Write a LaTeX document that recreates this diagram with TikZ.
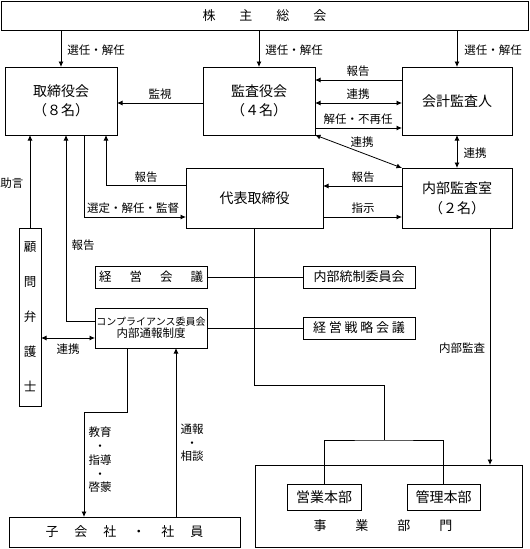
\documentclass[tikz,border=0pt]{standalone}
\usepackage{fontspec}
\setmainfont{Noto Sans CJK JP}
\usetikzlibrary{arrows.meta}
\begin{document}
\begin{tikzpicture}[x=1pt,y=-1pt,
  box/.style={draw, line width=0.8pt, inner sep=0pt, outer sep=0pt, align=center},
  big/.style={box, font=\fontsize{14}{19}\selectfont},
  lab/.style={font=\fontsize{11.5}{13.8}\selectfont, inner sep=0pt, align=center},
  ln/.style={line width=0.8pt},
  arr/.style={ln, -{Latex[length=5.5pt,width=5pt]}},
  darr/.style={ln, {Latex[length=5.5pt,width=5pt]}-{Latex[length=5.5pt,width=5pt]}}]
\useasboundingbox (0,0) rectangle (530,549);

% boxes
\node[box, minimum width=527pt, minimum height=29pt, font=\fontsize{13}{15}\selectfont] (kabu) at (264.5,15.5) {株\hspace{24pt}主\hspace{24pt}総\hspace{24pt}会};
\node[big, minimum width=112pt, minimum height=68pt] (tori) at (61,101) {取締役会\\（８名）};
\node[big, minimum width=112pt, minimum height=68pt] (kansa) at (259,101) {監査役会\\（４名）};
\node[big, minimum width=110pt, minimum height=68pt] (kaikei) at (457,101) {会計監査人};
\node[big, minimum width=137pt, minimum height=60pt] (daihyo) at (254.5,198) {代表取締役};
\node[big, minimum width=110pt, minimum height=60pt, font=\fontsize{14}{20}\selectfont] (naibu) at (457,198) {内部監査室\\（２名）};
\node[box, minimum width=22pt, minimum height=178pt, font=\fontsize{12.5}{35}\selectfont] (komon) at (30,317) {顧\\問\\弁\\護\\士};
\node[box, minimum width=112pt, minimum height=22pt, font=\fontsize{12.5}{15}\selectfont] (keiei) at (151,277) {経\hspace{18pt}営\hspace{18pt}会\hspace{18pt}議};
\node[box, minimum width=112pt, minimum height=22pt, font=\fontsize{13}{15}\selectfont] (tosei) at (359,277) {内部統制委員会};
\node[box, minimum width=112pt, minimum height=40pt] (comp) at (151,328) {{\fontsize{10}{14}\selectfont コンプライアンス委員会}\\{\fontsize{11.5}{14}\selectfont 内部通報制度}};
\node[box, minimum width=112pt, minimum height=22pt, font=\fontsize{13}{15}\selectfont] (senryaku) at (359,328) {経\hspace{2.8pt}営\hspace{2.8pt}戦\hspace{2.8pt}略\hspace{2.8pt}会\hspace{2.8pt}議};
\node[box, minimum width=231pt, minimum height=30pt, font=\fontsize{13}{15}\selectfont] (kogaisha) at (124.5,532) {子\hspace{16pt}会\hspace{16pt}社\hspace{16pt}・\hspace{16pt}社\hspace{16pt}員};
\node[box, minimum width=267pt, minimum height=82pt] (jigyo) at (388.5,506) {};
\node[lab, font=\fontsize{13}{15}\selectfont] (jigyotext) at (383,526) {事\hspace{29pt}業\hspace{29pt}部\hspace{29pt}門};
\node[box, minimum width=74pt, minimum height=26pt, font=\fontsize{14}{16}\selectfont] (eigyo) at (324,497) {営業本部};
\node[box, minimum width=73pt, minimum height=26pt, font=\fontsize{14}{16}\selectfont] (kanri) at (443.5,497) {管理本部};

% top arrows
\draw[arr] (kabu.south -| tori) -- (tori.north);
\draw[arr] (kabu.south -| kansa) -- (kansa.north);
\draw[arr] (kabu.south -| kaikei) -- (kaikei.north);
\node[lab] (l1) at (96,50) {選任・解任};
\node[lab] (l2) at (294,50) {選任・解任};
\node[lab] (l3) at (493,50) {選任・解任};

% kansa - tori
\draw[arr] ([yshift=-2pt]kansa.west) -- ([yshift=-2pt]tori.east);
\node[lab] (l4) at (160,94) {監視};

% kaikei - kansa
\draw[arr] ([yshift=21pt]kaikei.west) -- ([yshift=21pt]kansa.east);
\node[lab] (l5) at (358,71) {報告};
\draw[darr] ([yshift=-2pt]kansa.east) -- ([yshift=-2pt]kaikei.west);
\node[lab] (l6) at (358,94) {連携};
\draw[arr] ([yshift=-27pt]kansa.east) -- ([yshift=-27pt]kaikei.west);
\node[lab] (l7) at (358,119) {解任・不再任};

% kansa - naibu diagonal
\draw[darr] (kansa.south east) -- (naibu.north west);
\node[lab] (l8) at (362,142) {連携};
% kaikei - naibu
\draw[darr] (kaikei.south) -- (naibu.north);
\node[lab] (l9) at (475,153) {連携};

% naibu - daihyo
\draw[arr] ([yshift=12pt]naibu.west) -- ([yshift=12pt]daihyo.east);
\node[lab] (l10) at (363,177) {報告};
\draw[arr] ([yshift=-19pt]daihyo.east) -- ([yshift=-19pt]naibu.west);
\node[lab] (l11) at (363,208) {指示};

% tori bottom connections
\draw[arr] (komon.north) -- (tori.south -| komon.north);
\node[lab] (l12) at (12,183) {助言};
\draw[arr] ([yshift=13pt]daihyo.west) -| ([xshift=45pt]tori.south);
\node[lab] (l13) at (146,177) {報告};
\draw[arr] ([xshift=23pt]tori.south) |- ([yshift=-19pt]daihyo.west);
\node[lab] (l14) at (133,208) {選定・解任・監督};
\draw[arr] ([yshift=7pt]comp.west) -| ([xshift=5pt]tori.south);
\node[lab] (l15) at (83,245) {報告};

% middle lines
\draw[ln] (keiei.east) -- (tosei.west);
\draw[ln] (comp.east) -- (senryaku.west);
\draw[darr] ([yshift=-10pt]comp.west) -- ([yshift=-10pt]comp.west -| komon.east);
\node[lab] (l16) at (68,349) {連携};

% comp - kogaisha
\draw[arr] ([xshift=-24pt]comp.south) -- ++(0,64) -| ([xshift=-40.5pt]kogaisha.north);
\node[lab, font=\fontsize{11.5}{13.8}\selectfont] (l17) at (100,460) {教育\\・\\指導\\・\\啓蒙};
\draw[arr] ([xshift=51.5pt]kogaisha.north) -- ([xshift=51.5pt]kogaisha.north |- comp.south);
\node[lab, font=\fontsize{11.5}{13.5}\selectfont] (l18) at (192,443) {通報\\・\\相談};

% daihyo - jigyo
\coordinate (br) at (384,440);
\draw[ln] (daihyo.south) -- ++(0,157) -| (br);
\draw[ln] (eigyo.north) |- (br) -| (kanri.north);
\draw[arr] ([xshift=33pt]naibu.south) -- ([xshift=33pt]naibu.south |- jigyo.north);
\node[lab] (l19) at (462,348) {内部監査};
\end{tikzpicture}
\end{document}
